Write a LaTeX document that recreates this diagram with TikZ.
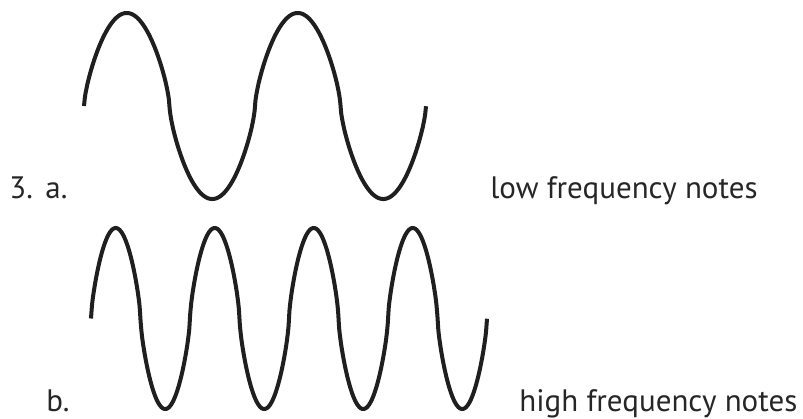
\documentclass[tikz,border=0pt]{standalone}
\usepackage{fontspec}
\setmainfont{PT Sans}
\usepackage{tikz}

\begin{document}
\begin{tikzpicture}[x=0.5pt, y=-0.5pt,
      wave/.style={line width=2pt, black!88, variable=\t, samples=400, smooth},
      lbl/.style={anchor=base west, inner sep=0pt, font=\fontsize{15.5}{19}\selectfont, black!85}]
    \useasboundingbox (0,0) rectangle (803,418);
    % low frequency: two periods, broad round crests
    \draw[wave] plot[domain=0:720]
      ({84 + \t/360*171}, {106 - 93*sign(sin(\t))*(abs(sin(\t))+0.0001)^0.7});
    % high frequency: four periods
    \draw[wave] plot[domain=0:1440]
      ({91 + \t/360*99}, {318.5 - 90.5*sign(sin(\t))*(abs(sin(\t))+0.0001)^0.7});
    \node[lbl] (num) at (9,198) {3.};
    \node[lbl] (parta) at (45,198) {a.};
    \node[lbl] (lowtxt) at (490,198) {low frequency notes};
    \node[lbl] (partb) at (46,411) {b.};
    \node[lbl] (hightxt) at (519,411) {high frequency notes};
  \end{tikzpicture}
\end{document}
